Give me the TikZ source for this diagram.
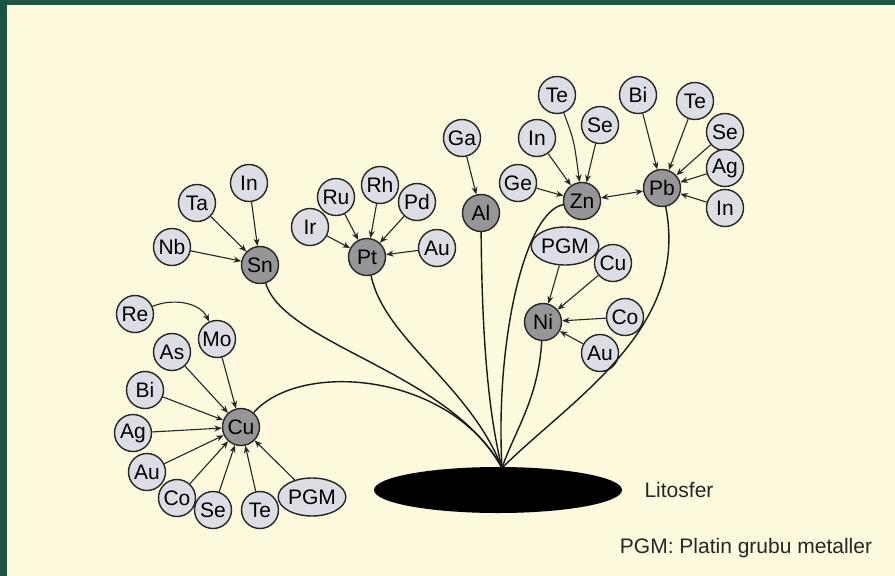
\documentclass[tikz,border=0pt]{standalone}
\usepackage{fontspec}
\setmainfont{Liberation Sans}
\usetikzlibrary{arrows.meta,shapes.geometric}
\definecolor{framegreen}{RGB}{30,84,70}
\definecolor{paper}{RGB}{252,249,221}
\definecolor{minor}{RGB}{221,221,229}
\definecolor{major}{RGB}{150,150,152}
\begin{document}
\begin{tikzpicture}[x=1pt,y=-1pt,
  elem/.style={circle, draw=black!85, line width=1.4pt, fill=minor,
    minimum size=37pt, inner sep=0pt, font=\fontsize{21}{23}\selectfont},
  host/.style={elem, fill=major},
  pgm/.style={elem, ellipse, minimum width=57pt, minimum height=38pt},
  feed/.style={-{Stealth[length=7.5pt,width=6pt]}, line width=1.1pt, draw=black!85},
  trunk/.style={line width=1.4pt, draw=black!90},
  caption/.style={font=\fontsize{21}{23}\selectfont, text=black!85}]
\useasboundingbox (0,0) rectangle (895,576);
% frame and paper
\fill[framegreen] (0,0) rectangle (895,576);
\fill[paper] (7,5) rectangle (895,576);

% lithosphere
\node[ellipse, fill=black, minimum width=248pt, minimum height=46pt, inner sep=0pt] (lito) at (498,490) {};
\coordinate (root) at (502,468);
\node[caption] (lbl) at (679,490) {Litosfer};
\node[caption] (legend) at (746,548) {PGM: Platin grubu metaller};

% host metals
\node[host] (Cu) at (241,427) {Cu};
\node[host] (Sn) at (260,265) {Sn};
\node[host] (Pt) at (367,257) {Pt};
\node[host] (Al) at (481,213) {Al};
\node[host] (Zn) at (582,201) {Zn};
\node[host] (Pb) at (662,188) {Pb};
\node[host] (Ni) at (543,322) {Ni};

% Sn group
\node[elem] (SnNb) at (172,247) {Nb};
\node[elem] (SnTa) at (197,203) {Ta};
\node[elem] (SnIn) at (249,183) {In};
% Pt group
\node[elem] (PtIr) at (310,227) {Ir};
\node[elem] (PtRu) at (336,197) {Ru};
\node[elem] (PtRh) at (380,185) {Rh};
\node[elem] (PtPd) at (417,202) {Pd};
\node[elem] (PtAu) at (437,248) {Au};
% Cu group
\node[elem] (CuRe) at (135,314) {Re};
\node[elem] (CuMo) at (217,339) {Mo};
\node[elem] (CuAs) at (172,352) {As};
\node[elem] (CuBi) at (145,390) {Bi};
\node[elem] (CuAg) at (133,433) {Ag};
\node[elem] (CuAu) at (147,472) {Au};
\node[elem] (CuCo) at (177,498) {Co};
\node[elem] (CuSe) at (213,510) {Se};
\node[elem] (CuTe) at (260,510) {Te};
\node[pgm]  (CuPGM) at (312,497) {PGM};
% Al group
\node[elem] (AlGa) at (462,138) {Ga};
% Zn group
\node[elem] (ZnTe) at (557,95) {Te};
\node[elem] (ZnSe) at (600,125) {Se};
\node[elem] (ZnIn) at (537,138) {In};
\node[elem] (ZnGe) at (518,183) {Ge};
% Pb group
\node[elem] (PbBi) at (638,95) {Bi};
\node[elem] (PbTe) at (695,101) {Te};
\node[elem] (PbSe) at (725,132) {Se};
\node[elem] (PbAg) at (725,168) {Ag};
\node[elem] (PbIn) at (725,208) {In};
% Ni group
\node[pgm]  (NiPGM) at (565,246) {PGM};
\node[elem] (NiCu) at (613,263) {Cu};
\node[elem] (NiCo) at (625,317) {Co};
\node[elem] (NiAu) at (600,353) {Au};

% trunks down to the lithosphere
\draw[trunk] (Cu) .. controls (300,360) and (450,372) .. (root);
\draw[trunk] (Sn) .. controls (285,345) and (450,372) .. (root);
\draw[trunk] (Pt) .. controls (385,340) and (470,385) .. (root);
\draw[trunk] (Al) .. controls (482,350) and (490,420) .. (root);
\draw[trunk] (Zn) .. controls (525,212) and (495,340) .. (root);
\draw[trunk] (Ni) .. controls (538,400) and (515,430) .. (root);
\draw[trunk] (Pb) .. controls (690,330) and (570,400) .. (root);

% associated elements
\foreach \s in {SnNb,SnTa,SnIn} \draw[feed] (\s) -- (Sn);
\foreach \s in {PtIr,PtRu,PtRh,PtPd,PtAu} \draw[feed] (\s) -- (Pt);
\foreach \s in {CuMo,CuAs,CuBi,CuAg,CuAu,CuCo,CuSe,CuTe,CuPGM} \draw[feed] (\s) -- (Cu);
\draw[feed] (CuRe) .. controls (172,298) and (200,302) .. (CuMo);
\draw[feed] (AlGa) -- (Al);
\foreach \s in {ZnSe,ZnIn,ZnGe} \draw[feed] (\s) -- (Zn);
\draw[feed] (ZnTe) .. controls (574,140) .. (Zn);
\foreach \s in {PbBi,PbTe,PbSe,PbAg,PbIn} \draw[feed] (\s) -- (Pb);
\foreach \s in {NiPGM,NiCu,NiCo,NiAu} \draw[feed] (\s) -- (Ni);
\draw[feed, {Stealth[length=7.5pt,width=6pt]}-{Stealth[length=7.5pt,width=6pt]}] (Zn) -- (Pb);
\end{tikzpicture}
\end{document}
